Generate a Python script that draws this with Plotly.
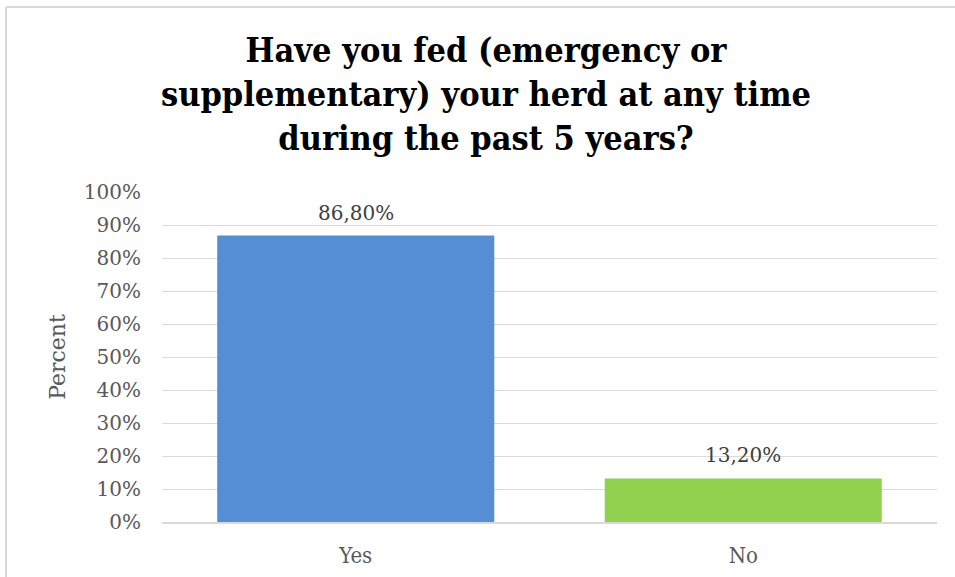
import plotly.graph_objects as go

categories = ["Yes", "No"]
values = [86.80, 13.20]
colors = ["#558ED5", "#92D050"]
labels = ["86,80%", "13,20%"]
title_text = "Have you fed (emergency or<br>supplementary) your herd at any time<br>during the past 5 years?"

W, H = 955, 577
L, R, T, B = 162, 18, 192, 55
pw, ph = W - L - R, H - T - B

fig = go.Figure(go.Bar(x=categories, y=values, marker_color=colors, width=0.715,
                       marker_line_width=0, hoverinfo="skip"))

for c, v, t in zip(categories, values, labels):
    fig.add_annotation(x=c, y=v, text=t, showarrow=False, yanchor="bottom", yshift=9,
                       font=dict(family="DejaVu Serif", size=20, color="#404040"))

fig.add_annotation(xref="paper", yref="paper", x=(486 - L) / pw, y=1 + (T - 94) / ph,
                   text="<b>" + title_text + "</b>", showarrow=False,
                   xanchor="center", yanchor="middle",
                   font=dict(family="DejaVu Serif Condensed", size=34, color="#000000"))

# chart border (top and left edges)
fig.add_shape(type="line", xref="paper", yref="paper", x0=(6 - L) / pw, x1=1.1,
              y0=1 + (T - 7) / ph, y1=1 + (T - 7) / ph, line=dict(color="#d9d9d9", width=2))
fig.add_shape(type="line", xref="paper", yref="paper", x0=(6 - L) / pw, x1=(6 - L) / pw,
              y0=1 + (T - 7) / ph, y1=-0.3, line=dict(color="#d9d9d9", width=2))

fig.update_layout(
    width=W, height=H, margin=dict(l=L, r=R, t=T, b=B, autoexpand=False),
    paper_bgcolor="white", plot_bgcolor="white", showlegend=False,
    font=dict(family="DejaVu Serif", size=20, color="#595959"),
)
fig.update_yaxes(range=[0, 100], dtick=10, ticksuffix="%", showgrid=True, gridcolor="#d9d9d9",
                 gridwidth=1, zeroline=False, showline=False, ticklabelstandoff=20,
                 tickfont=dict(size=20), automargin=False,
                 title=dict(text="Percent", font=dict(size=22, color="#595959"), standoff=12))
fig.update_xaxes(showline=True, linecolor="#d9d9d9", linewidth=2, showgrid=False,
                 ticklabelstandoff=13, automargin=False,
                 tickfont=dict(family="DejaVu Serif Condensed", size=22))

fig.write_html("out.html", config={"displayModeBar": False},
               post_script="document.body.style.margin='0px';")
